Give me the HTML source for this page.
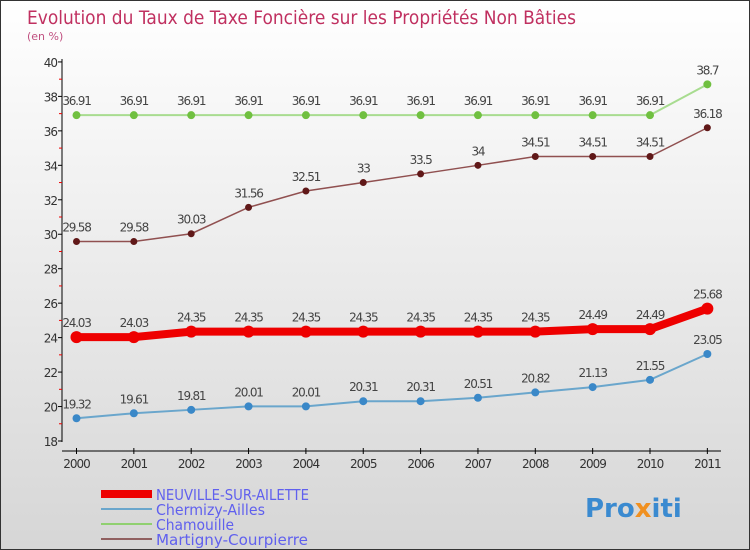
<!DOCTYPE html>
<html><head><meta charset="utf-8"><style>
body{margin:0}
#c{width:748px;height:548px;border:1px solid #333;position:relative;background:linear-gradient(#ffffff,#d6d6d6);font-family:"DejaVu Sans","Liberation Sans",sans-serif;overflow:hidden}
</style></head><body>
<div id="c">
<svg id="s" width="748" height="548" xmlns="http://www.w3.org/2000/svg">
<text x="26" y="23" font-size="19" fill="#c03060" textLength="549" lengthAdjust="spacingAndGlyphs">Evolution du Taux de Taxe Foncière sur les Propriétés Non Bâties</text>
<text x="26" y="39" font-size="11" fill="#c05080">(en %)</text>
<g id="axes"></g><g id="series"></g>
<g>
<rect x="100" y="489" width="51" height="8" fill="#ee0000"/>
<text x="155" y="499" font-size="15" fill="#6060ee" textLength="153" lengthAdjust="spacingAndGlyphs">NEUVILLE-SUR-AILETTE</text>
<rect x="100" y="507" width="51" height="2" fill="#6aa6cc"/>
<text x="155" y="514" font-size="15" fill="#6060ee" textLength="109" lengthAdjust="spacingAndGlyphs">Chermizy-Ailles</text>
<rect x="100" y="522" width="51" height="2" fill="#90d070"/>
<text x="155" y="529" font-size="15" fill="#6060ee" textLength="78" lengthAdjust="spacingAndGlyphs">Chamouille</text>
<rect x="100" y="537" width="51" height="2" fill="#906060"/>
<text x="155" y="544" font-size="15" fill="#6060ee" textLength="152" lengthAdjust="spacingAndGlyphs">Martigny-Courpierre</text>
</g>
<text x="584" y="516" font-size="26" font-weight="bold" fill="#3a8ad0">Pro<tspan fill="#f09020">x</tspan>iti</text>
</svg>
</div>
<script>
const years=[2000,2001,2002,2003,2004,2005,2006,2007,2008,2009,2010,2011];
const yTicks=[18,20,22,24,26,28,30,32,34,36,38,40];
const neuville=[24.03,24.03,24.35,24.35,24.35,24.35,24.35,24.35,24.35,24.49,24.49,25.68];
const chermizy=[19.32,19.61,19.81,20.01,20.01,20.31,20.31,20.51,20.82,21.13,21.55,23.05];
const chamouille=[36.91,36.91,36.91,36.91,36.91,36.91,36.91,36.91,36.91,36.91,36.91,38.7];
const martigny=[29.58,29.58,30.03,31.56,32.51,33,33.5,34,34.51,34.51,34.51,36.18];
const NS="http://www.w3.org/2000/svg";
const X=i=>75.5+i*57.35, Y=v=>440-(v-18)*17.23;
function mk(t,a,p){const e=document.createElementNS(NS,t);for(const k in a)e.setAttribute(k,a[k]);p.appendChild(e);return e;}
const ax=document.getElementById('axes'),sg=document.getElementById('series');
let l=mk('line',{x1:61,y1:58,x2:61,y2:441,stroke:'#000'},ax);


yTicks.forEach(v=>{
 const t=mk('line',{x1:57,x2:61,y1:Y(v),y2:Y(v),stroke:'#000'},ax);
 
 
 if(v<40){const m=mk('line',{x1:58,x2:61,y1:Y(v+1),y2:Y(v+1),stroke:'#e00'},ax);
 
 }
 const tx=mk('text',{x:56,y:Y(v)+5,'text-anchor':'end','font-size':12,fill:'#333','letter-spacing':'-1'},ax);
 tx.textContent=v;
 
 
});
l=mk('line',{x1:61,y1:450,x2:720,y2:450,stroke:'#000'},ax);


years.forEach((y,i)=>{
 const t=mk('line',{x1:X(i),x2:X(i),y1:447,y2:453,stroke:'#000'},ax);
 
 
 const tx=mk('text',{x:X(i),y:467,'text-anchor':'middle','font-size':12,fill:'#333','letter-spacing':'-1'},ax);
 tx.textContent=y;
 
 
});
function draw(data,name,color,dot,w,r){
 const g=mk('g',{},sg);
 
 
 const p=mk('polyline',{points:data.map((v,i)=>X(i)+','+Y(v)).join(' '),fill:'none',stroke:color,'stroke-width':w},g);
 
 
 data.forEach((v,i)=>{
  const c=mk('circle',{cx:X(i),cy:Y(v),r:r,fill:dot},g);
  
  
  const t=mk('text',{x:X(i),y:Y(v)-10,'text-anchor':'middle','font-size':12,fill:'#444','letter-spacing':'-1.2'},g);
  t.textContent=String(v);
  
  
 });
}
draw(chamouille,'chamouille','#a8dc90','#70c040',2,4);
draw(martigny,'martigny','#905050','#601818',1.5,3.5);
draw(chermizy,'chermizy','#6aa6cc','#3a88c8',2,4);
draw(neuville,'neuville','#ee0000','#ee0000',8,6);
</script>
</body></html>
